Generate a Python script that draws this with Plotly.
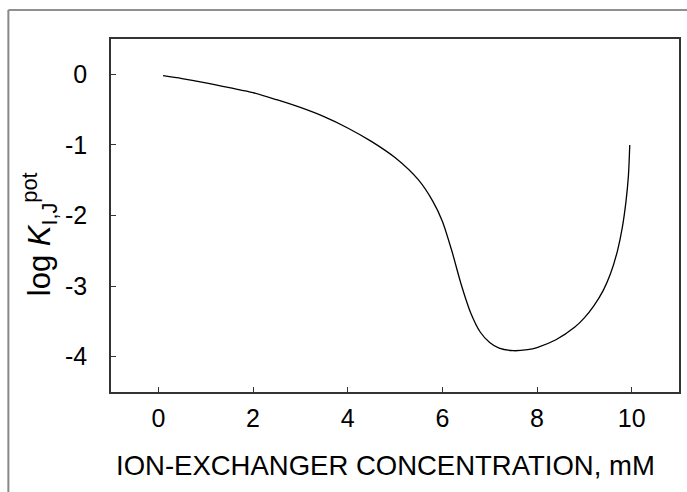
import plotly.graph_objects as go

# Selectivity coefficient vs. ion-exchanger concentration
conc_mM = [0.1, 0.5, 1.0, 1.5, 2.0, 2.5, 3.0, 3.5, 4.0, 4.5, 5.0, 5.5, 5.8, 6.0,
           6.2, 6.4, 6.6, 6.8, 7.0, 7.2, 7.5, 7.8, 8.0, 8.4, 8.8, 9.0, 9.2, 9.4,
           9.55, 9.7, 9.8, 9.88, 9.93, 9.96]
log_k_pot = [-0.02, -0.06, -0.12, -0.19, -0.26, -0.36, -0.47, -0.60, -0.76, -0.95,
             -1.18, -1.50, -1.80, -2.08, -2.50, -2.98, -3.38, -3.65, -3.80, -3.88,
             -3.915, -3.90, -3.87, -3.76, -3.58, -3.45, -3.28, -3.06, -2.83, -2.50,
             -2.18, -1.80, -1.45, -1.00]

x_ticks = [0, 2, 4, 6, 8, 10]
y_ticks = [0, -1, -2, -3, -4]

fig = go.Figure()
fig.add_trace(go.Scatter(
    x=conc_mM, y=log_k_pot, mode="lines",
    line=dict(color="black", width=1.3, shape="spline", smoothing=0.8),
    showlegend=False,
))

family = "Liberation Sans, Arial, sans-serif"
tick_font = dict(family=family, size=25, color="black")
axis_common = dict(
    showgrid=False, zeroline=False, showline=True, linecolor="#333",
    linewidth=1.5, mirror=True, ticks="inside", ticklen=5, tickcolor="#333",
    tickwidth=1, tickfont=tick_font,
)

fig.update_layout(
    width=687, height=492,
    margin=dict(l=111, r=6, t=39, b=100),
    paper_bgcolor="white", plot_bgcolor="white",
    font=tick_font,
    xaxis=dict(range=[-1, 11], tickvals=x_ticks,
               ticktext=[str(v) for v in x_ticks],
               ticklabelstandoff=3, **axis_common),
    yaxis=dict(range=[-4.5, 0.5], tickvals=y_ticks,
               ticktext=[str(v) for v in y_ticks],
               ticklabelstandoff=17, **axis_common),
    annotations=[
        dict(text="ION-EXCHANGER CONCENTRATION, mM",
             xref="paper", yref="paper", x=0.4825, y=-0.2068,
             xanchor="center", yanchor="middle", showarrow=False,
             font=dict(family=family, size=27.5, color="black")),
        dict(text="log <i>K</i><sub>I,J</sub><sup>pot</sup>",
             xref="paper", yref="paper", x=-0.1246, y=0.4476,
             xanchor="center", yanchor="middle", showarrow=False,
             textangle=-90,
             font=dict(family=family, size=31, color="black")),
    ],
    shapes=[
        # outer frame: top and left edges
        dict(type="line", xref="paper", yref="paper",
             x0=-0.1807, x1=1.02, y0=1.0822, y1=1.0822,
             line=dict(color="#222", width=1.2)),
        dict(type="line", xref="paper", yref="paper",
             x0=-0.1807, x1=-0.1807, y0=1.0822, y1=-0.3,
             line=dict(color="#888", width=2)),
    ],
)

fig.write_html("out.html")
